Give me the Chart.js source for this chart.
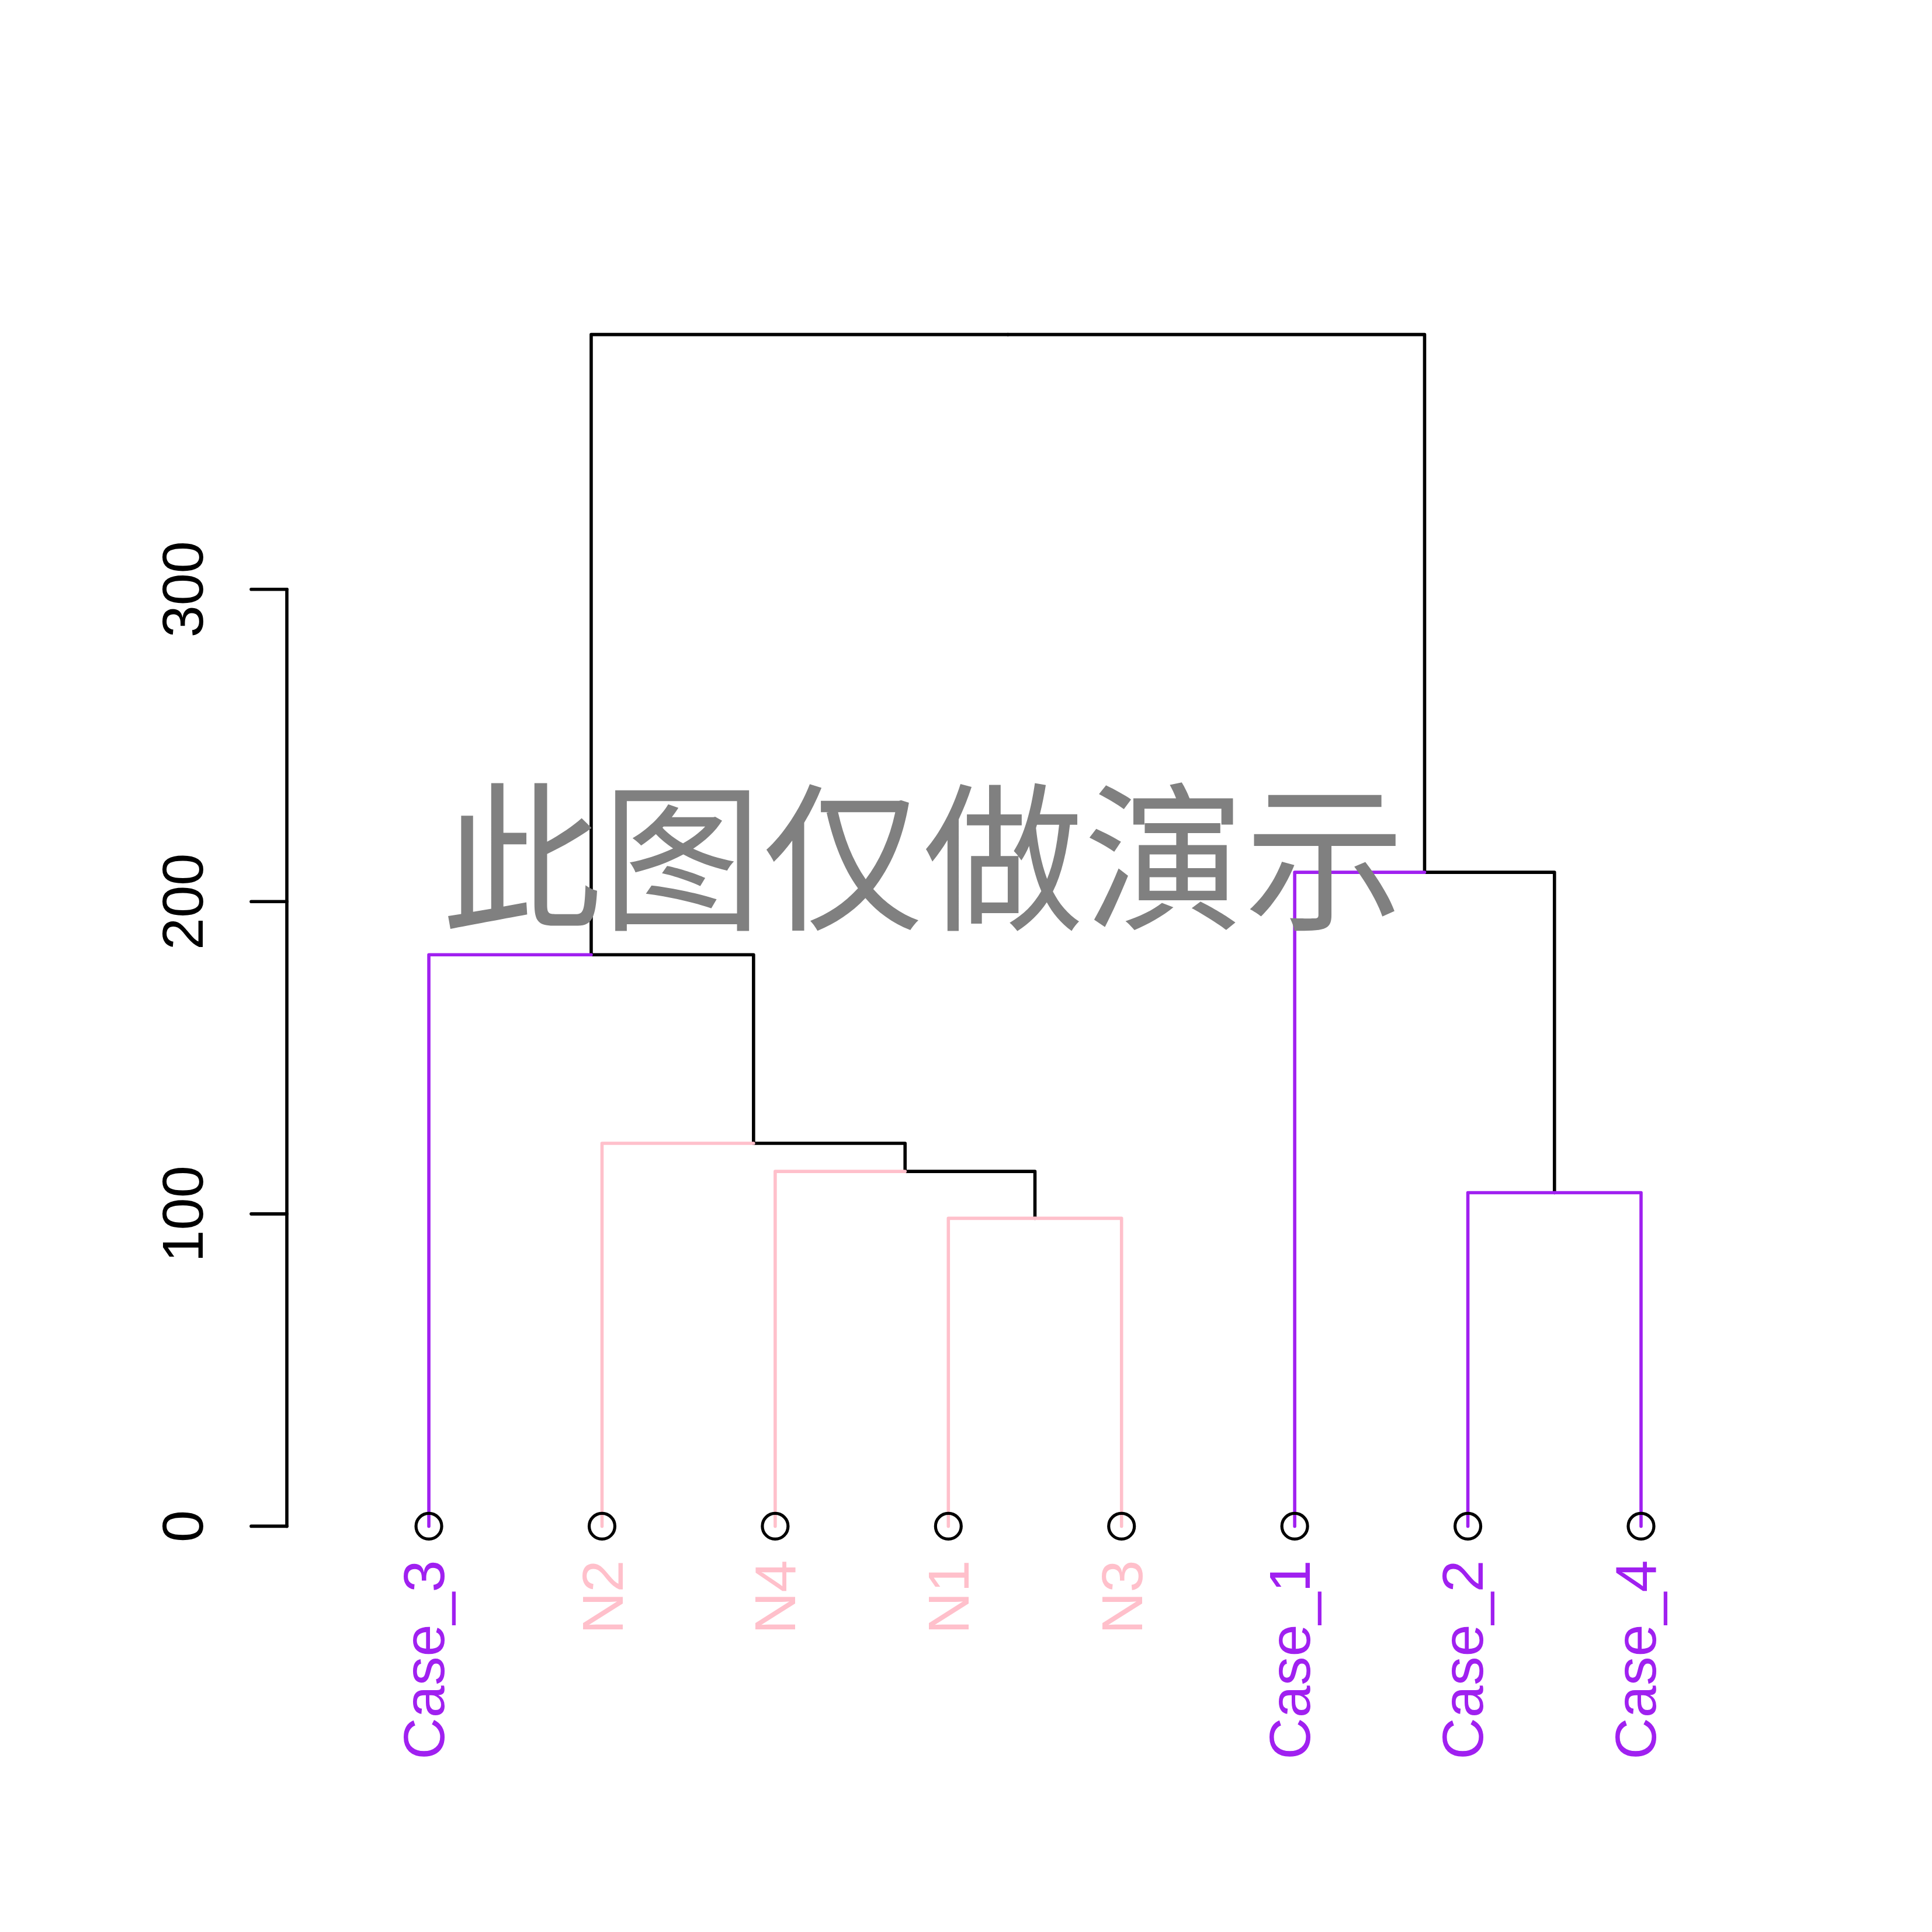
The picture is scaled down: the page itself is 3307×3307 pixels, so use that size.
<!DOCTYPE html>
<html>
<head>
<meta charset="utf-8">
<script src="https://cdn.jsdelivr.net/npm/chart.js@4/dist/chart.umd.min.js"></script>
<style>
  html, body { margin: 0; padding: 0; background: #ffffff; }
  #wrap { width: 3307px; height: 3307px; }
</style>
</head>
<body>
<div id="wrap"><canvas id="c" width="3307" height="3307"></canvas></div>
<script>
// ---------------- DATA ----------------
const leafLabels = ['Case_3', 'N2', 'N4', 'N1', 'N3', 'Case_1', 'Case_2', 'Case_4'];
const leafGroups = ['Case', 'N', 'N', 'N', 'N', 'Case', 'Case', 'Case'];
// hclust-style merge table (negative = leaf in display order, positive = earlier merge)
const mergeLeft    = [-4, -7, -3, -2, -1, -6, 5];
const mergeRight   = [-5, -8,  1,  3,  4,  2, 6];
const mergeHeights = [98.6, 106.8, 113.6, 122.6, 183.0, 209.4, 381.6];
const yTicks = [0, 100, 200, 300];
const watermarkText = '此图仅做演示';

// ---------------- STYLE ----------------
const groupColors = { Case: '#A020F0', N: '#FFC0CB' };
const LW = 5.6;
const FONT = '"Liberation Sans", Arial, Helvetica, sans-serif';
const FONT_PX = 99;

// ---------------- BUILD DENDROGRAM ----------------
const nodeX = [];
function posOf(c) { return c < 0 ? (-c) : nodeX[c - 1]; }
function hOf(c) { return c < 0 ? 0 : mergeHeights[c - 1]; }
for (let k = 0; k < mergeHeights.length; k++) {
  nodeX[k] = (posOf(mergeLeft[k]) + posOf(mergeRight[k])) / 2;
}
const datasets = [];
for (let k = 0; k < mergeHeights.length; k++) {
  const px = nodeX[k], h = mergeHeights[k];
  [mergeLeft[k], mergeRight[k]].forEach(c => {
    const color = c < 0 ? groupColors[leafGroups[-c - 1]] : '#000000';
    datasets.push({
      type: 'scatter',
      data: [{ x: px, y: h }, { x: posOf(c), y: h }, { x: posOf(c), y: hOf(c) }],
      showLine: true,
      borderColor: color,
      borderWidth: LW,
      pointRadius: 0,
      borderCapStyle: 'round',
      borderJoinStyle: 'round',
      fill: false,
      order: 1
    });
  });
}
// leaf circles
datasets.push({
  type: 'scatter',
  data: leafLabels.map((l, i) => ({ x: i + 1, y: 0 })),
  pointRadius: 22,
  pointBorderWidth: 5.2,
  pointBorderColor: '#000000',
  pointBackgroundColor: 'rgba(0,0,0,0)',
  pointStyle: 'circle',
  showLine: false,
  order: 0
});

const maxH = Math.max(...mergeHeights);

// draw rotated (reading upwards) text whose ink is centred horizontally on cx
function vText(ctx, txt, cx, y, align, color) {
  ctx.save();
  ctx.font = FONT_PX + 'px ' + FONT;
  ctx.textAlign = align;
  ctx.textBaseline = 'alphabetic';
  const m = ctx.measureText(txt);
  const off = (m.actualBoundingBoxAscent - m.actualBoundingBoxDescent) / 2;
  ctx.translate(cx + off, y);
  ctx.rotate(-Math.PI / 2);
  ctx.fillStyle = color;
  ctx.fillText(txt, 0, 0);
  ctx.restore();
}

const decor = {
  id: 'decor',
  beforeDraw(chart) {
    const ctx = chart.ctx;
    ctx.save();
    ctx.fillStyle = '#ffffff';
    ctx.fillRect(0, 0, chart.width, chart.height);
    ctx.restore();
  },
  afterDraw(chart) {
    const ctx = chart.ctx;
    const xs = chart.scales.x, ys = chart.scales.y;
    const ax = chart.chartArea.left;
    ctx.save();
    // y axis
    ctx.strokeStyle = '#000000';
    ctx.lineWidth = LW;
    ctx.lineCap = 'round';
    ctx.beginPath();
    ctx.moveTo(ax, ys.getPixelForValue(yTicks[0]));
    ctx.lineTo(ax, ys.getPixelForValue(yTicks[yTicks.length - 1]));
    ctx.stroke();
    yTicks.forEach(t => {
      const py = ys.getPixelForValue(t);
      ctx.beginPath();
      ctx.moveTo(ax, py);
      ctx.lineTo(ax - 61, py);
      ctx.stroke();
      vText(ctx, String(t), ax - 178, py, 'center', '#000000');
    });
    // leaf labels
    const zeroPix = ys.getPixelForValue(0);
    leafLabels.forEach((lab, i) => {
      const px = xs.getPixelForValue(i + 1);
      vText(ctx, lab, px + 1, zeroPix + 58, 'right', groupColors[leafGroups[i]]);
    });
    // watermark
    ctx.fillStyle = '#808080';
    ctx.font = '275px "Noto Sans CJK SC", sans-serif';
    ctx.textAlign = 'center';
    ctx.textBaseline = 'middle';
    ctx.fillText(watermarkText, 1580, 1467);
    ctx.restore();
  }
};

new Chart(document.getElementById('c'), {
  type: 'scatter',
  data: { datasets },
  options: {
    responsive: false,
    devicePixelRatio: 1,
    animation: false,
    layout: { padding: { left: 491, top: 491, right: 252, bottom: 613 } },
    plugins: { legend: { display: false }, tooltip: { enabled: false } },
    scales: {
      x: { type: 'linear', min: 0.18, max: 8.83, display: false },
      y: { type: 'linear', min: -0.04 * maxH, max: maxH * 1.04, display: false }
    }
  },
  plugins: [decor]
});
</script>
</body>
</html>
